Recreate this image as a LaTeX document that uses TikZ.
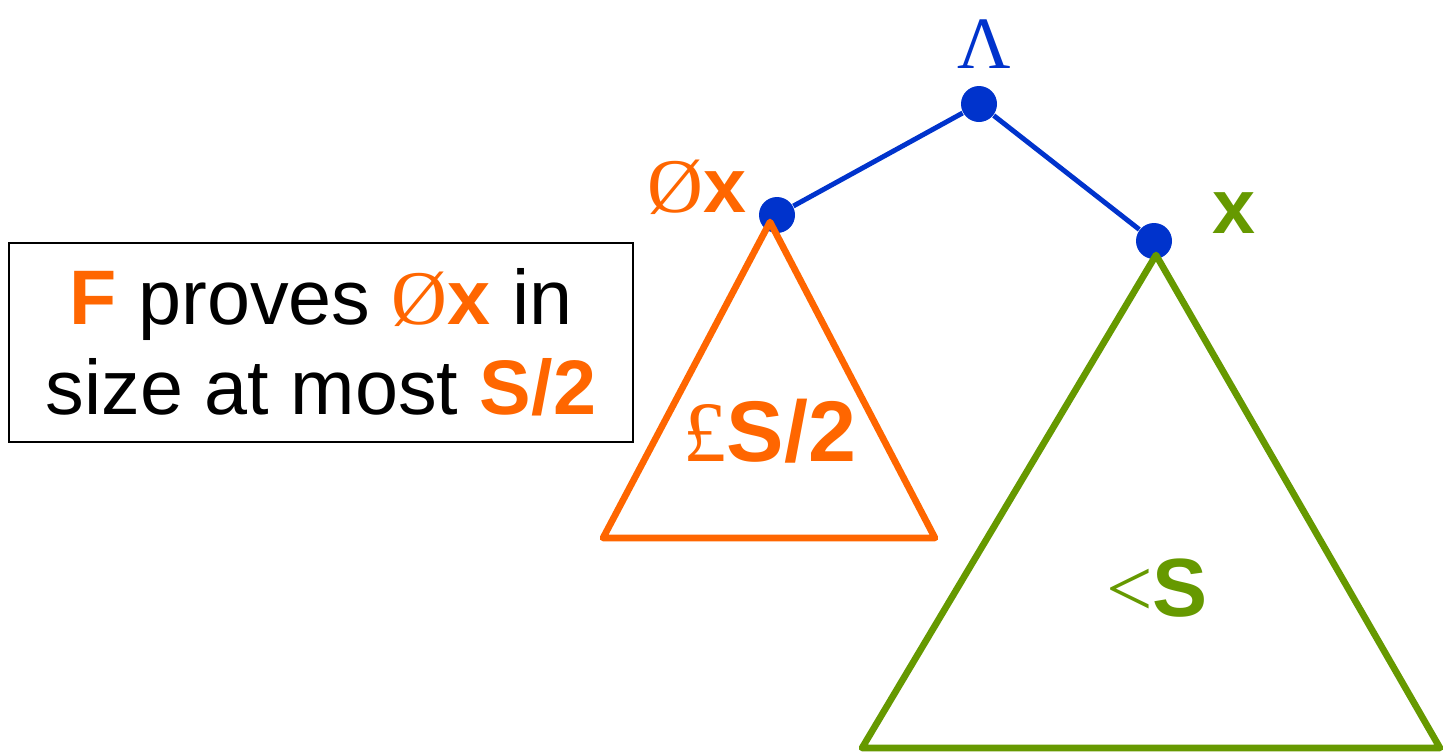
\documentclass[tikz,border=0pt]{standalone}
\usepackage{fontspec}
\setmainfont{Liberation Sans}
\newfontfamily\symfont{Liberation Serif}
\usepackage{xcolor}
\definecolor{treeblue}{HTML}{0033CC}
\definecolor{negorange}{HTML}{FF6600}
\definecolor{posgreen}{HTML}{669900}

\begin{document}
\begin{tikzpicture}[
		dot/.style={circle,fill=treeblue,draw=none,minimum size=3.6mm,inner sep=0pt},
		lbl/.style={draw=none,inner sep=0pt,font=\fontsize{22}{24}\selectfont\bfseries},
		edge/.style={treeblue,line width=1.4pt},
		tri/.style={line width=1.9pt,line join=round,line cap=round}
		]
		\useasboundingbox (0,0) rectangle (14.46,7.55);

		% the tree
		\node[dot] (root)  at (9.79,6.51) {};
		\node[dot] (neg)   at (7.77,5.40) {};
		\node[dot] (pos)   at (11.54,5.14) {};

		\draw[edge] (root) -- (neg);
		\draw[edge] (root) -- (pos);

		\node[lbl,treeblue] (wedge) at (9.84,7.11) {\symfont\mdseries\fontsize{21}{24}\selectfont Λ};
		\node[lbl,negorange] (neglbl) at (6.97,5.68) {{\symfont\mdseries Ø}x};
		\node[lbl,posgreen] (poslbl) at (12.34,5.42) {x};

		% subproofs
		\coordinate (ntop) at (7.70,5.33);
		\coordinate (nbl)  at (6.03,2.17);
		\coordinate (nbr)  at (9.35,2.17);
		\draw[tri,negorange] (ntop) -- (nbl) -- (nbr) -- cycle;

		\coordinate (ptop) at (11.56,5.00);
		\coordinate (pbl)  at (8.62,0.07);
		\coordinate (pbr)  at (14.40,0.07);
		\draw[tri,posgreen] (ptop) -- (pbl) -- (pbr) -- cycle;

		\node[lbl,negorange,font=\fontsize{24.5}{26}\selectfont\bfseries] (nsize) at (7.70,3.24) {{\symfont\mdseries £}S/2};
		\node[lbl,posgreen,font=\fontsize{23.5}{26}\selectfont\bfseries] (psize) at (11.57,1.67) {{\symfont\mdseries <}S};

		% the claim
		\node[draw=black,line width=0.6pt,minimum width=6.24cm,minimum height=1.99cm,
			inner sep=0pt,align=center,font=\fontsize{22}{25.6}\selectfont] (claim) at (3.21,4.125)
			{\textcolor{negorange}{\bfseries F} proves \textcolor{negorange}{{\symfont Ø}\bfseries x} in\\
			size at most \textcolor{negorange}{\bfseries S/2}};
	\end{tikzpicture}
\end{document}
